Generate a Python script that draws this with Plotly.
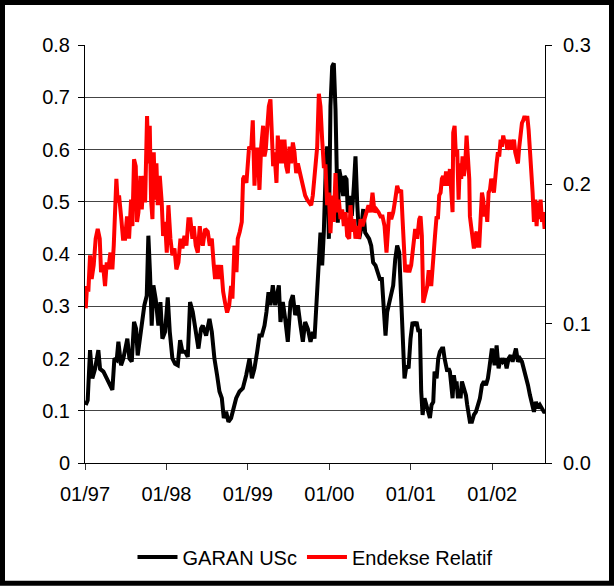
import pandas as pd
import plotly.graph_objects as go

# ---- data (decimal years, values) ----
garan_years = [
    1997.009, 1997.033, 1997.062, 1997.090, 1997.123, 1997.164, 1997.185, 1997.226, 1997.267, 1997.308,
    1997.336, 1997.361, 1997.389, 1997.410, 1997.443, 1997.471, 1997.492, 1997.520, 1997.545, 1997.574,
    1997.602, 1997.627, 1997.647, 1997.676, 1997.697, 1997.729, 1997.758, 1997.778, 1997.798, 1997.819,
    1997.840, 1997.868, 1997.901, 1997.926, 1997.950, 1997.983, 1998.016, 1998.041, 1998.073, 1998.106,
    1998.139, 1998.168, 1998.196, 1998.229, 1998.262, 1998.290, 1998.323, 1998.352, 1998.393, 1998.425,
    1998.446, 1998.487, 1998.528, 1998.557, 1998.589, 1998.622, 1998.651, 1998.680, 1998.704, 1998.733,
    1998.761, 1998.794, 1998.827, 1998.856, 1998.897, 1998.938, 1998.979, 1999.020, 1999.049, 1999.081,
    1999.114, 1999.142, 1999.171, 1999.204, 1999.228, 1999.253, 1999.277, 1999.306, 1999.335, 1999.359,
    1999.380, 1999.400, 1999.429, 1999.458, 1999.490, 1999.523, 1999.552, 1999.581, 1999.613, 1999.646,
    1999.675, 1999.703, 1999.736, 1999.769, 1999.798,
    1999.818, 1999.842, 1999.867, 1999.891, 1999.912, 1999.932, 1999.957, 1999.973, 1999.994, 2000.014,
    2000.035, 2000.055, 2000.076, 2000.088, 2000.104, 2000.121, 2000.145, 2000.170, 2000.186, 2000.211,
    2000.227, 2000.252, 2000.276, 2000.301, 2000.321, 2000.342, 2000.366, 2000.391, 2000.416, 2000.440,
    2000.465, 2000.489, 2000.514, 2000.538, 2000.567, 2000.596, 2000.620, 2000.645, 2000.670, 2000.690,
    2000.710, 2000.735, 2000.760, 2000.784, 2000.809, 2000.833, 2000.858, 2000.874, 2000.891, 2000.907,
    2000.923, 2000.948, 2000.973, 2000.997, 2001.022, 2001.046, 2001.071, 2001.095, 2001.112, 2001.128,
    2001.145, 2001.169, 2001.194, 2001.218,
    2001.235, 2001.255, 2001.276, 2001.292, 2001.317, 2001.337, 2001.357, 2001.382, 2001.398, 2001.415,
    2001.431, 2001.448, 2001.464, 2001.480, 2001.497, 2001.513, 2001.529, 2001.546, 2001.562, 2001.579,
    2001.595, 2001.611, 2001.628, 2001.644, 2001.661, 2001.677, 2001.693, 2001.710, 2001.726, 2001.751,
    2001.775, 2001.800, 2001.824, 2001.849, 2001.874, 2001.898, 2001.923, 2001.947, 2001.964, 2001.980,
    2001.996, 2002.013, 2002.029, 2002.054, 2002.078, 2002.103, 2002.127, 2002.152, 2002.177, 2002.201,
    2002.226, 2002.250, 2002.275, 2002.291, 2002.316, 2002.340, 2002.365, 2002.389, 2002.414, 2002.439,
    2002.463, 2002.488, 2002.512, 2002.537, 2002.561, 2002.586, 2002.611, 2002.635, 2002.652,
]
garan_values = [
    0.111, 0.120, 0.216, 0.162, 0.180, 0.216, 0.180, 0.175, 0.162, 0.149,
    0.140, 0.200, 0.197, 0.232, 0.187, 0.200, 0.219, 0.238, 0.200, 0.194,
    0.270, 0.257, 0.206, 0.244, 0.270, 0.302, 0.320, 0.435, 0.365, 0.263,
    0.340, 0.314, 0.263, 0.308, 0.238, 0.251, 0.317, 0.251, 0.200, 0.190,
    0.187, 0.235, 0.213, 0.213, 0.203, 0.308, 0.289, 0.263, 0.219, 0.257,
    0.263, 0.244, 0.276, 0.251, 0.200, 0.168, 0.137, 0.124, 0.086, 0.098,
    0.079, 0.086, 0.105, 0.124, 0.137, 0.143, 0.168, 0.200, 0.162, 0.181,
    0.213, 0.244, 0.244, 0.263, 0.289, 0.327, 0.302, 0.340, 0.302, 0.327,
    0.340, 0.270, 0.308, 0.276, 0.232, 0.308, 0.321, 0.283, 0.302, 0.263,
    0.232, 0.270, 0.257, 0.232, 0.251,
    0.238, 0.302, 0.365, 0.441, 0.378, 0.441, 0.568, 0.606, 0.429, 0.683,
    0.759, 0.765, 0.676, 0.568, 0.460, 0.562, 0.543, 0.511, 0.549, 0.543,
    0.479, 0.511, 0.473, 0.530, 0.587, 0.498, 0.429, 0.448, 0.486, 0.441,
    0.435, 0.429, 0.416, 0.384, 0.378, 0.365, 0.352, 0.352, 0.302, 0.244,
    0.289, 0.308, 0.327, 0.340, 0.390, 0.416, 0.403, 0.333, 0.251, 0.213,
    0.162, 0.187, 0.181, 0.238, 0.270, 0.263, 0.270, 0.251, 0.257, 0.137,
    0.092, 0.124, 0.111, 0.098,
    0.086, 0.111, 0.117, 0.175, 0.162, 0.200, 0.213, 0.219, 0.219, 0.200,
    0.181, 0.175, 0.181, 0.175, 0.149, 0.124, 0.168, 0.149, 0.156, 0.124,
    0.137, 0.124, 0.156, 0.149, 0.137, 0.130, 0.111, 0.092, 0.079, 0.079,
    0.092, 0.098, 0.111, 0.124, 0.149, 0.156, 0.149, 0.162, 0.181, 0.206,
    0.219, 0.206, 0.187, 0.225, 0.181, 0.200, 0.194, 0.200, 0.181, 0.200,
    0.206, 0.194, 0.213, 0.219, 0.194, 0.200, 0.194, 0.181, 0.168, 0.149,
    0.130, 0.117, 0.098, 0.117, 0.105, 0.111, 0.105, 0.098, 0.098,
]

endeks_years = [
    1997.009, 1997.025, 1997.041, 1997.062, 1997.082, 1997.107, 1997.131, 1997.156, 1997.181, 1997.197,
    1997.222, 1997.246, 1997.267, 1997.287, 1997.312, 1997.336, 1997.353, 1997.369, 1997.385, 1997.402,
    1997.418, 1997.443, 1997.467, 1997.492, 1997.516, 1997.541, 1997.566, 1997.582, 1997.602, 1997.623,
    1997.639, 1997.656, 1997.680, 1997.697, 1997.721, 1997.738, 1997.762, 1997.778, 1997.795, 1997.811,
    1997.828, 1997.844, 1997.860, 1997.877, 1997.893, 1997.918, 1997.942, 1997.959, 1997.983, 1998.004,
    1998.024, 1998.049, 1998.073, 1998.098, 1998.122, 1998.147, 1998.172, 1998.196, 1998.221, 1998.245,
    1998.270, 1998.294, 1998.319, 1998.335, 1998.360, 1998.385, 1998.409, 1998.425,
    1998.446, 1998.475, 1998.507, 1998.532, 1998.557, 1998.581, 1998.597, 1998.622, 1998.647, 1998.671,
    1998.696, 1998.720, 1998.745, 1998.770, 1998.794, 1998.810, 1998.835, 1998.860, 1998.876, 1998.900,
    1998.925, 1998.941, 1998.958, 1998.982, 1998.999, 1999.015, 1999.040, 1999.060, 1999.081, 1999.101,
    1999.122, 1999.142, 1999.163, 1999.187, 1999.204, 1999.220, 1999.236, 1999.257, 1999.277, 1999.294,
    1999.310, 1999.326, 1999.351, 1999.367, 1999.388, 1999.408, 1999.429, 1999.449, 1999.470, 1999.490,
    1999.511, 1999.531, 1999.552, 1999.572, 1999.593, 1999.613, 1999.638, 1999.662, 1999.687, 1999.703,
    1999.728, 1999.752, 1999.777, 1999.797,
    1999.830, 1999.851, 1999.871, 1999.891, 1999.912, 1999.932, 1999.953, 1999.973, 1999.994, 2000.014,
    2000.035, 2000.055, 2000.076, 2000.096, 2000.117, 2000.137, 2000.158, 2000.178, 2000.199, 2000.219,
    2000.244, 2000.260, 2000.280, 2000.301, 2000.321, 2000.342, 2000.362, 2000.383, 2000.407, 2000.432,
    2000.457, 2000.481, 2000.506, 2000.530, 2000.555, 2000.579, 2000.604, 2000.629, 2000.653, 2000.678,
    2000.702, 2000.719, 2000.735, 2000.760, 2000.784, 2000.809, 2000.833, 2000.858, 2000.882, 2000.899,
    2000.915, 2000.932, 2000.956, 2000.981, 2001.005, 2001.030, 2001.054, 2001.079, 2001.104, 2001.120,
    2001.136, 2001.153, 2001.177, 2001.202, 2001.218,
    2001.235, 2001.251, 2001.267, 2001.284, 2001.300, 2001.317, 2001.333, 2001.349, 2001.366, 2001.382,
    2001.398, 2001.415, 2001.431, 2001.448, 2001.464, 2001.480, 2001.497, 2001.513, 2001.521, 2001.538,
    2001.554, 2001.570, 2001.587, 2001.603, 2001.619, 2001.636, 2001.652, 2001.669, 2001.685, 2001.701,
    2001.718, 2001.726, 2001.742, 2001.759, 2001.775, 2001.792, 2001.808, 2001.824, 2001.841, 2001.857,
    2001.874, 2001.890, 2001.906, 2001.923, 2001.939, 2001.955, 2001.972, 2001.988, 2002.004, 2002.021,
    2002.037, 2002.054, 2002.070, 2002.086, 2002.103, 2002.119, 2002.135, 2002.152, 2002.168, 2002.185,
    2002.201, 2002.217, 2002.234, 2002.250, 2002.267, 2002.283, 2002.299, 2002.316, 2002.332, 2002.348,
    2002.365, 2002.381, 2002.397, 2002.414, 2002.430, 2002.447, 2002.463, 2002.479, 2002.496, 2002.512,
    2002.529, 2002.545, 2002.561, 2002.578, 2002.594, 2002.611, 2002.627, 2002.643, 2002.655,
]
endeks_values = [
    0.111, 0.127, 0.123, 0.149, 0.132, 0.142, 0.161, 0.168, 0.161, 0.137,
    0.142, 0.127, 0.144, 0.139, 0.151, 0.139, 0.156, 0.182, 0.204, 0.187,
    0.192, 0.177, 0.161, 0.161, 0.177, 0.161, 0.189, 0.170, 0.218, 0.213,
    0.173, 0.180, 0.206, 0.182, 0.206, 0.187, 0.249, 0.215, 0.242, 0.189,
    0.175, 0.223, 0.189, 0.215, 0.185, 0.206, 0.187, 0.163, 0.173, 0.151,
    0.185, 0.161, 0.149, 0.154, 0.139, 0.144, 0.161, 0.154, 0.163, 0.156,
    0.175, 0.175, 0.161, 0.170, 0.156, 0.151, 0.170, 0.161,
    0.156, 0.168, 0.166, 0.156, 0.161, 0.142, 0.132, 0.142, 0.132, 0.142,
    0.123, 0.115, 0.108, 0.113, 0.127, 0.118, 0.156, 0.137, 0.161, 0.166,
    0.173, 0.204, 0.206, 0.201, 0.213, 0.227, 0.225, 0.246, 0.199, 0.225,
    0.225, 0.196, 0.227, 0.242, 0.220, 0.225, 0.239, 0.256, 0.261, 0.235,
    0.213, 0.223, 0.201, 0.235, 0.215, 0.232, 0.215, 0.232, 0.213, 0.208,
    0.227, 0.215, 0.230, 0.223, 0.208, 0.215, 0.208, 0.204, 0.194, 0.192,
    0.189, 0.187, 0.185, 0.192,
    0.218, 0.227, 0.265, 0.256, 0.232, 0.213, 0.213, 0.185, 0.194, 0.165,
    0.192, 0.173, 0.208, 0.180, 0.189, 0.175, 0.182, 0.170, 0.180, 0.163,
    0.161, 0.185, 0.166, 0.175, 0.161, 0.170, 0.161, 0.175, 0.170, 0.175,
    0.180, 0.185, 0.180, 0.194, 0.180, 0.182, 0.180, 0.177, 0.177, 0.170,
    0.151, 0.170, 0.180, 0.175, 0.180, 0.189, 0.199, 0.194, 0.196, 0.175,
    0.156, 0.137, 0.142, 0.137, 0.142, 0.158, 0.168, 0.161, 0.175, 0.177,
    0.163, 0.115, 0.120, 0.127, 0.137,
    0.137, 0.127, 0.142, 0.151, 0.165, 0.177, 0.175, 0.192, 0.194, 0.204,
    0.206, 0.199, 0.208, 0.208, 0.199, 0.211, 0.192, 0.180, 0.237, 0.242,
    0.220, 0.225, 0.189, 0.215, 0.204, 0.220, 0.206, 0.215, 0.235, 0.220,
    0.204, 0.177, 0.170, 0.161, 0.154, 0.163, 0.166, 0.156, 0.156, 0.175,
    0.194, 0.189, 0.177, 0.185, 0.173, 0.194, 0.196, 0.204, 0.201, 0.194,
    0.208, 0.215, 0.223, 0.220, 0.232, 0.227, 0.235, 0.230, 0.232, 0.225,
    0.227, 0.232, 0.225, 0.230, 0.232, 0.223, 0.218, 0.215, 0.227, 0.239,
    0.244, 0.246, 0.249, 0.246, 0.249, 0.239, 0.227, 0.208, 0.194, 0.173,
    0.189, 0.170, 0.187, 0.175, 0.189, 0.173, 0.180, 0.168, 0.175,
]

x_tick_years = [1997, 1998, 1999, 2000, 2001, 2002]
x_tick_labels = ["01/97", "01/98", "01/99", "01/00", "01/01", "01/02"]
x_range_years = [1997.0, 2002.648]
left_ticks = [0, 0.1, 0.2, 0.3, 0.4, 0.5, 0.6, 0.7, 0.8]
left_labels = ["0", "0.1", "0.2", "0.3", "0.4", "0.5", "0.6", "0.7", "0.8"]
right_ticks = [0.0, 0.1, 0.2, 0.3]
right_labels = ["0.0", "0.1", "0.2", "0.3"]


def to_date(y):
    return pd.Timestamp("1997-01-01") + pd.Timedelta(days=(y - 1997) * 365.25)


garan_x = [to_date(y) for y in garan_years]
endeks_x = [to_date(y) for y in endeks_years]

FONT = "Liberation Sans, Arial, sans-serif"

fig = go.Figure()
fig.add_trace(go.Scatter(
    x=endeks_x, y=endeks_values, name="Endekse Relatif", yaxis="y2",
    mode="lines", line=dict(color="#FF0000", width=4), legendrank=2,
))
fig.add_trace(go.Scatter(
    x=garan_x, y=garan_values, name="GARAN USc", yaxis="y",
    mode="lines", line=dict(color="#000000", width=4), legendrank=1,
))

W, H = 614, 587
L, R, T, B = 85, 69, 45, 123
pw, ph = W - L - R, H - T - B

fig.update_layout(
    width=W, height=H,
    margin=dict(l=L, r=R, t=T, b=B, pad=0),
    paper_bgcolor="white", plot_bgcolor="white",
    font=dict(family=FONT, size=20, color="black"),
    showlegend=True,
    legend=dict(orientation="h", x=0.5, xanchor="center", y=(T + ph - 557) / ph,
                yanchor="middle", font=dict(size=20), bgcolor="rgba(0,0,0,0)",
                traceorder="normal", itemwidth=40),
    xaxis=dict(
        type="date", range=[to_date(x_range_years[0]), to_date(x_range_years[1])],
        tickvals=[to_date(y) for y in x_tick_years], ticktext=x_tick_labels,
        ticks="outside", ticklen=6, tickcolor="#333", tickwidth=1,
        showline=True, linecolor="#000", linewidth=1,
        showgrid=False, zeroline=False, tickfont=dict(size=20),
        ticklabelstandoff=7,
    ),
    yaxis=dict(
        range=[0, 0.8], tickvals=left_ticks, ticktext=left_labels,
        ticks="outside", ticklen=6, tickcolor="#000", tickwidth=1,
        showline=True, linecolor="#000", linewidth=1,
        showgrid=True, gridcolor="#444", gridwidth=1,
        zeroline=False, tickfont=dict(size=20),
        ticklabelstandoff=4,
    ),
    yaxis2=dict(
        range=[0, 0.3], tickvals=right_ticks, ticktext=right_labels,
        overlaying="y", side="right",
        ticks="outside", ticklen=6, tickcolor="#000", tickwidth=1,
        showline=True, linecolor="#000", linewidth=1,
        showgrid=False, zeroline=False, tickfont=dict(size=20),
        ticklabelstandoff=7,
    ),
    shapes=[dict(
        type="rect", xref="paper", yref="paper",
        x0=(2.5 - L) / pw, x1=(W - 2.5 - L) / pw,
        y0=(T + ph - (H - 2.5)) / ph, y1=(T + ph - 2.5) / ph,
        line=dict(color="black", width=5), fillcolor="rgba(0,0,0,0)", layer="above",
    )],
)

fig.write_html("out.html", config={"displayModeBar": False},
               post_script="document.body.style.margin='0';document.body.style.overflow='hidden';")
